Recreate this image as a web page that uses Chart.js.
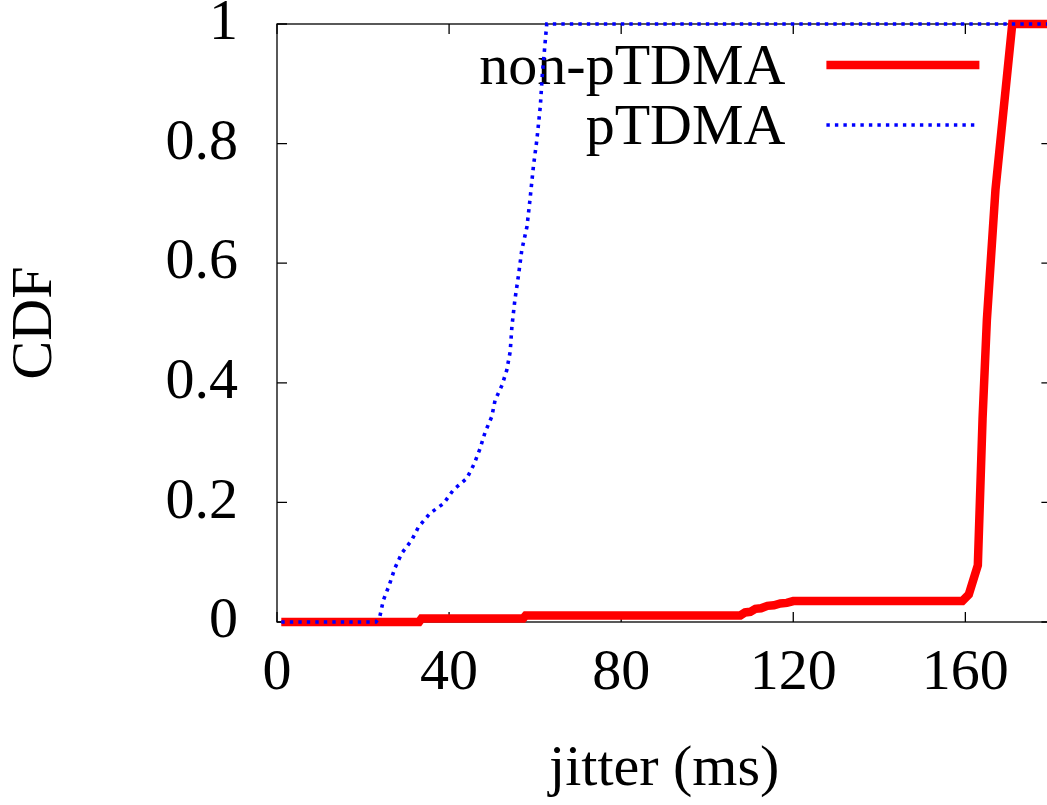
<!DOCTYPE html>
<html>
<head>
<meta charset="utf-8">
<title>jitter CDF</title>
<script src="https://cdn.jsdelivr.net/npm/chart.js@4.4.0/dist/chart.umd.min.js"></script>
<style>
  html, body { margin: 0; padding: 0; background: #fff; overflow: hidden; }
  canvas { display: block; }
</style>
</head>
<body>
<canvas id="cdf-chart" width="1060" height="805"></canvas>
<script>
const seriesNames = ["non-pTDMA", "pTDMA"];

// non-pTDMA: jitter (ms) vs cumulative fraction
const nonJitter = [1, 33, 33.6, 57.2, 57.8, 107.7, 108.8, 110, 111.2, 112.5, 114, 115.5, 117, 118.5, 120, 159.3, 160.8, 162.9, 164.0, 165.0, 167.0, 170.9, 180];
const nonCdf    = [0, 0, 0.006, 0.006, 0.011, 0.011, 0.016, 0.017, 0.022, 0.023, 0.027, 0.028, 0.031, 0.032, 0.035, 0.035, 0.046, 0.095, 0.34, 0.505, 0.723, 1, 1];

// pTDMA
const pJitter = [1, 23.0, 23.9, 24.7, 26.1, 27.4, 29.0, 31.3, 32.9, 35.6, 38.7, 41.0, 44.1, 45.8, 47.2, 48.4, 49.9, 50.7, 52.3, 53.4, 54.2, 54.6, 55.3, 56.1, 56.9, 58.1, 58.8, 59.6, 60.4, 61.2, 61.7, 62.7, 180];
const pCdf    = [0, 0, 0.009, 0.036, 0.062, 0.090, 0.115, 0.137, 0.159, 0.182, 0.198, 0.221, 0.240, 0.264, 0.290, 0.318, 0.343, 0.371, 0.396, 0.421, 0.452, 0.494, 0.539, 0.578, 0.622, 0.661, 0.706, 0.762, 0.806, 0.862, 0.918, 1, 1];

const xTickValues = [0, 40, 80, 120, 160];
const yTickValues = [0, 0.2, 0.4, 0.6, 0.8, 1];
const yTickLabels = ["0", "0.2", "0.4", "0.6", "0.8", "1"];

const FONT = "'Liberation Serif', 'Times New Roman', serif";
const FONT_SIZE = 58;

const toPoints = (xs, ys) => xs.map((x, i) => ({ x: x, y: ys[i] }));

// gnuplot-style border: full box with inward ticks on every side
const framePlugin = {
  id: "frame",
  beforeDatasetsDraw(chart) {
    const { ctx, chartArea: a, scales } = chart;
    const len = 10;
    ctx.save();
    ctx.strokeStyle = "#000";
    ctx.lineWidth = 1.3;
    ctx.strokeRect(a.left, a.top, a.right - a.left, a.bottom - a.top);
    ctx.beginPath();
    xTickValues.forEach((v) => {
      const px = scales.x.getPixelForValue(v);
      ctx.moveTo(px, a.bottom);
      ctx.lineTo(px, a.bottom - len);
      ctx.moveTo(px, a.top);
      ctx.lineTo(px, a.top + len);
    });
    yTickValues.forEach((v) => {
      const py = scales.y.getPixelForValue(v);
      ctx.moveTo(a.left, py);
      ctx.lineTo(a.left + len, py);
      ctx.moveTo(a.right, py);
      ctx.lineTo(a.right - len, py);
    });
    ctx.stroke();
    ctx.restore();
  },
};

// key in the top right corner: label right-aligned, sample line after it
const keyPlugin = {
  id: "key",
  beforeDatasetsDraw(chart) {
    const { ctx, chartArea: a } = chart;
    const textRight = a.right - 266;
    const lineStart = a.right - 225;
    const lineEnd = a.right - 72;
    ctx.save();
    ctx.font = FONT_SIZE + "px " + FONT;
    ctx.fillStyle = "#000";
    ctx.textAlign = "right";
    ctx.textBaseline = "alphabetic";
    chart.data.datasets.forEach((ds, i) => {
      const lineY = a.top + 41 + i * 60;
      ctx.fillText(ds.label, textRight, lineY + 19);
      ctx.beginPath();
      ctx.strokeStyle = ds.borderColor;
      ctx.lineWidth = ds.borderWidth;
      ctx.setLineDash(ds.borderDash || []);
      ctx.moveTo(lineStart, lineY);
      ctx.lineTo(lineEnd, lineY);
      ctx.stroke();
    });
    ctx.restore();
  },
};

const ctx = document.getElementById("cdf-chart").getContext("2d");
const chart = new Chart(ctx, {
  type: "line",
  data: {
    datasets: [
      {
        label: seriesNames[0],
        data: toPoints(nonJitter, nonCdf),
        borderColor: "#ff0000",
        borderWidth: 8.5,
        pointRadius: 0,
        tension: 0,
        order: 1,
      },
      {
        label: seriesNames[1],
        data: toPoints(pJitter, pCdf),
        borderColor: "#0000ff",
        borderWidth: 3.6,
        borderDash: [3.4, 5.1],
        pointRadius: 0,
        tension: 0,
        order: 0,
      },
    ],
  },
  options: {
    responsive: false,
    animation: false,
    devicePixelRatio: 1,
    clip: false,
    layout: {
      autoPadding: false,
      padding: { top: 24, right: 8.6, bottom: 0, left: 0 },
    },
    plugins: {
      legend: { display: false },
      tooltip: { enabled: false },
    },
    scales: {
      x: {
        type: "linear",
        min: 0,
        max: 180,
        afterFit: (scale) => {
          scale.height = 183;
          scale.paddingLeft = 0;
          scale.paddingRight = 0;
        },
        afterBuildTicks: (scale) => {
          scale.ticks = xTickValues.map((v) => ({ value: v }));
        },
        grid: { display: false, drawTicks: false },
        border: { display: false },
        ticks: {
          color: "#000",
          font: { family: FONT, size: FONT_SIZE },
          padding: 17,
          maxRotation: 0,
          autoSkip: false,
        },
        title: {
          display: true,
          text: "jitter (ms)",
          color: "#000",
          font: { family: FONT, size: FONT_SIZE },
          padding: { top: 0, bottom: 0 },
        },
      },
      y: {
        type: "linear",
        min: 0,
        max: 1,
        afterFit: (scale) => {
          scale.width = 277;
          scale.paddingTop = 0;
          scale.paddingBottom = 0;
        },
        afterBuildTicks: (scale) => {
          scale.ticks = yTickValues.map((v) => ({ value: v }));
        },
        grid: { display: false, drawTicks: false },
        border: { display: false },
        ticks: {
          color: "#000",
          font: { family: FONT, size: FONT_SIZE },
          padding: 39,
          callback: (value, index) => yTickLabels[index],
        },
        title: {
          display: true,
          text: "CDF",
          color: "#000",
          font: { family: FONT, size: FONT_SIZE },
          padding: { top: 1, bottom: 0 },
        },
      },
    },
  },
  plugins: [framePlugin, keyPlugin],
});
</script>
</body>
</html>
